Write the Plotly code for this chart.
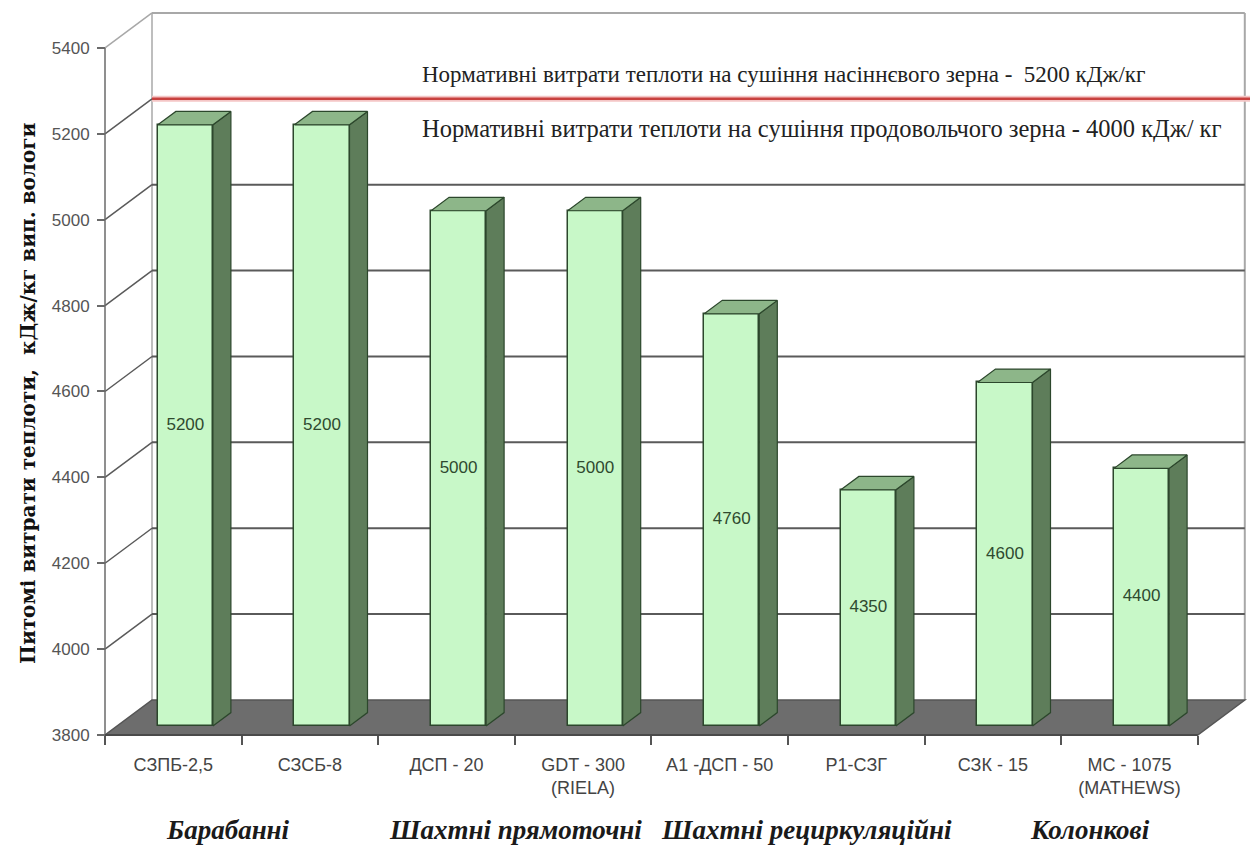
import plotly.graph_objects as go

# ---- data ----
categories = ["СЗПБ-2,5", "СЗСБ-8", "ДСП - 20", "GDT - 300<br>(RIELA)",
              "А1 -ДСП - 50", "Р1-СЗГ", "СЗК - 15", "МС - 1075<br>(MATHEWS)"]
values = [5200, 5200, 5000, 5000, 4760, 4350, 4600, 4400]
y_ticks = [3800, 4000, 4200, 4400, 4600, 4800, 5000, 5200, 5400]
groups = ["Барабанні", "Шахтні прямоточні", "Шахтні рециркуляційні", "Колонкові"]
norm_seed = 5200
norm_food = 4000

# ---- pseudo-3D geometry (in axis units) ----
W, H = 1250, 847
PX = 136.6          # pixels per category
PY = 0.4294         # pixels per value unit
X0 = 105            # pixel of the front-left corner
Y0 = 735            # pixel of the front floor line (value 3800)
VMIN, VMAX = y_ticks[0], y_ticks[-1]
DX = 47 / PX        # depth offset along x (back wall)
DV = 35 / PY        # depth offset along y (back wall)
D1, D2 = 0.257, 0.64  # bar front / back depth fractions
BW = 0.403          # bar width in category units

x_range = [-0.5 - X0 / PX, (W - X0) / PX - 0.5]
y_range = [VMIN - (H - Y0) / PY, VMIN + Y0 / PY]

XL, XR = -0.5, len(categories) - 0.5

FRONT = "#c8f8c8"
SIDE = "#5e7d5a"
TOP = "#8db689"
EDGE = "#2c472c"
GRID = "#5a5a5a"
WALL = "#a8a8a8"

fig = go.Figure()

shapes = []


def seg(x0, y0, x1, y1, color, width):
    shapes.append(dict(type="line", xref="x", yref="y", x0=x0, y0=y0, x1=x1, y1=y1,
                       line=dict(color=color, width=width), layer="below"))


# back wall outline
seg(XL + DX, VMAX + DV, XR + DX, VMAX + DV, WALL, 2)
seg(XL + DX, VMIN + DV, XL + DX, VMAX + DV, WALL, 1.5)
seg(XR + DX, VMIN + DV, XR + DX, VMAX + DV, WALL, 2)
seg(XL, VMAX, XL + DX, VMAX + DV, WALL, 1.5)

# gridlines on back and side walls
for v in y_ticks[1:-1]:
    seg(XL, v, XL + DX, v + DV, GRID, 1.5)
    if v == norm_seed:
        seg(XL + DX, v + DV, x_range[1], v + DV, "#f4c6c6", 6)
        seg(XL + DX, v + DV, x_range[1], v + DV, "#c8413f", 2.5)
    else:
        seg(XL + DX, v + DV, XR + DX, v + DV, GRID, 2)

# floor
shapes.append(dict(
    type="path", xref="x", yref="y", layer="below",
    path=f"M {XL},{VMIN} L {XR},{VMIN} L {XR + DX},{VMIN + DV} L {XL + DX},{VMIN + DV} Z",
    fillcolor="#6d6d6d", line=dict(color="#555555", width=1.5)))

# front vertical axis line and floor edge
seg(XL, VMIN, XL, VMAX, "#6a6a6a", 1.5)
seg(XL, VMIN, XR, VMIN, "#4a4a4a", 2)

# bar front faces
xs = [i + D1 * DX for i in range(len(values))]
fig.add_trace(go.Bar(
    x=xs, y=[v - VMIN for v in values], base=[VMIN + D1 * DV] * len(values),
    width=BW, marker=dict(color=FRONT, line=dict(color=EDGE, width=1.5)),
    hoverinfo="skip", showlegend=False))

# bar side and top faces
ddx = (D2 - D1) * DX
for i, v in enumerate(values):
    xl = xs[i] - BW / 2
    xr = xs[i] + BW / 2
    b1 = VMIN + D1 * DV
    b2 = VMIN + D2 * DV
    t1 = v + D1 * DV
    t2 = v + D2 * DV
    fig.add_trace(go.Scatter(
        x=[xr, xr, xr + ddx, xr + ddx, xr], y=[b1, t1, t2, b2, b1],
        mode="lines", fill="toself", fillcolor=SIDE,
        line=dict(color=EDGE, width=1.2), hoverinfo="skip", showlegend=False))
    fig.add_trace(go.Scatter(
        x=[xl, xr, xr + ddx, xl + ddx, xl], y=[t1, t1, t2, t2, t1],
        mode="lines", fill="toself", fillcolor=TOP,
        line=dict(color=EDGE, width=1.2), hoverinfo="skip", showlegend=False))

# value labels inside bars
fig.add_trace(go.Scatter(
    x=xs, y=[(VMIN + v) / 2 + D1 * DV for v in values],
    mode="text", text=[str(v) for v in values],
    textfont=dict(family="Liberation Sans, Arial", size=17, color="#2f4a2f"),
    hoverinfo="skip", showlegend=False))

annotations = []
serif = "Liberation Serif, Times New Roman, serif"
annotations.append(dict(
    xref="paper", yref="paper", x=420 / W, y=1 - 75 / H, xanchor="left", yanchor="middle",
    text=f"Нормативні витрати теплоти на сушіння насіннєвого зерна -  {norm_seed} кДж/кг",
    showarrow=False, font=dict(family=serif, size=23, color="#222222")))
annotations.append(dict(
    xref="paper", yref="paper", x=420 / W, y=1 - 128 / H, xanchor="left", yanchor="middle",
    text=f"Нормативні витрати теплоти на сушіння продовольчого зерна - {norm_food} кДж/ кг",
    showarrow=False, font=dict(family=serif, size=24.5, color="#222222")))

# group captions under the axis
group_x = [228, 515, 807, 1090]
for gx, g in zip(group_x, groups):
    annotations.append(dict(
        xref="paper", yref="paper", x=gx / W, y=1 - 830 / H, xanchor="center", yanchor="middle",
        text=f"<b><i>{g}</i></b>", showarrow=False,
        font=dict(family=serif, size=27, color="#1a1a1a")))

# axis title
annotations.append(dict(
    xref="paper", yref="paper", x=28 / W, y=1 - 393 / H, xanchor="center", yanchor="middle",
    text="<b>Питомі витрати теплоти,  кДж/кг вип. вологи</b>", textangle=-90,
    showarrow=False, font=dict(family="DejaVu Serif, serif", size=20, color="#111111")))

fig.update_layout(
    width=W, height=H, autosize=False,
    margin=dict(l=0, r=0, t=0, b=0),
    paper_bgcolor="white", plot_bgcolor="white",
    bargap=0, showlegend=False,
    shapes=shapes, annotations=annotations,
    xaxis=dict(
        range=x_range, domain=[0, 1], anchor="free", position=1 - Y0 / H,
        tickmode="array", tickvals=list(range(len(categories))), ticktext=categories,
        ticks="", showgrid=False, zeroline=False, showline=False,
        tickfont=dict(family="Liberation Sans, Arial", size=18, color="#444444"),
        minor=dict(tickmode="array", tickvals=[k - 0.5 for k in range(len(categories) + 1)],
                   ticks="outside", ticklen=9, tickwidth=1.5, tickcolor="#555555", showgrid=False),
        ticklabelstandoff=17, fixedrange=True),
    yaxis=dict(
        range=y_range, domain=[0, 1], anchor="free", position=X0 / W, side="left",
        tickmode="array", tickvals=y_ticks, ticks="outside", ticklen=8, tickwidth=1.5,
        tickcolor="#6a6a6a", showgrid=False, zeroline=False, showline=False,
        tickfont=dict(family="Liberation Sans, Arial", size=17, color="#555555"),
        ticklabelstandoff=4, fixedrange=True),
)

fig.write_html("out.html")
